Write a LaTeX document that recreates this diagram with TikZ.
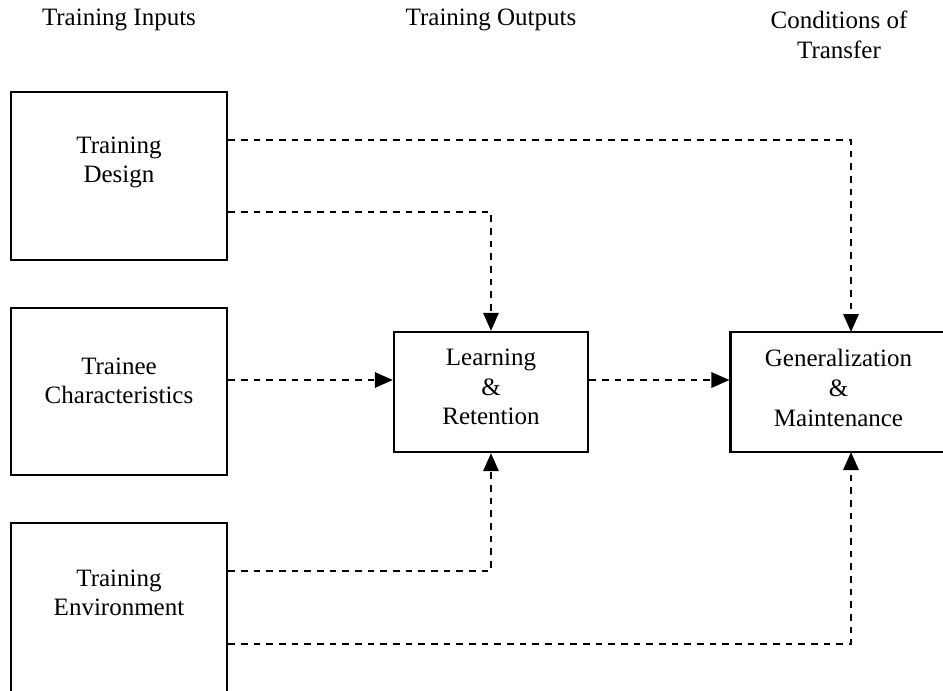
\documentclass[tikz,border=0pt]{standalone}
\usepackage{fontspec}
\setmainfont{Liberation Serif}
\usepackage{tikz}
\usetikzlibrary{arrows.meta}

\begin{document}
\begin{tikzpicture}[x=.75pt, y=-.75pt,
		every node/.style={font=\fontsize{18.75}{22.2}\selectfont, align=center},
		inbox/.style={draw, line width=1.8pt, minimum width=162pt, minimum height=126pt, inner sep=0pt},
		outbox/.style={draw, line width=1.8pt, minimum height=90pt, inner sep=0pt},
		flow/.style={line width=1.6pt, dash pattern=on 5pt off 4.5pt, -{Triangle[length=13.5pt, width=11.5pt]}}]
	\clip (0,0) rectangle (943,690);
	% column titles
	\node (hin) at (119,20) {Training Inputs};
	\node (hout) at (491,20) {Training Outputs};
	\node (hcond) at (839,35) {Conditions of\\Transfer};
	% boxes
	\node[inbox] (design) at (119,176) {};
	\node[inbox, minimum height=125pt] (trainee) at (119,391.5) {};
	\node[inbox, minimum height=130pt] (env) at (119,609.5) {};
	\node[outbox, minimum width=145.5pt] (learn) at (491,392) {};
	\node[outbox, minimum width=170pt] (gen) at (844,392) {};
	\node (design-txt) at (119,162.5) {Training\\Design};
	\node (trainee-txt) at (119,381) {Trainee\\Characteristics};
	\node (env-txt) at (119,593) {Training\\Environment};
	\node (learn-txt) at (491,387) {Learning\\\&\\Retention};
	\node (gen-txt) at (838.5,388) {Generalization\\\&\\Maintenance};
	\coordinate (gtop) at (851,332);
	\coordinate (gbot) at (851,452);
	% connectors
	\draw[flow] (design.east |- 0,140) -| (gtop);
	\draw[flow] (design.east |- 0,212) -| (learn.north);
	\draw[flow] (trainee.east |- 0,380) -- (learn.west |- 0,380);
	\draw[flow] (learn.east |- 0,380) -- (gen.west |- 0,380);
	\draw[flow] (env.east |- 0,571) -| (learn.south);
	\draw[flow] (env.east |- 0,644) -| (gbot);
\end{tikzpicture}
\end{document}
